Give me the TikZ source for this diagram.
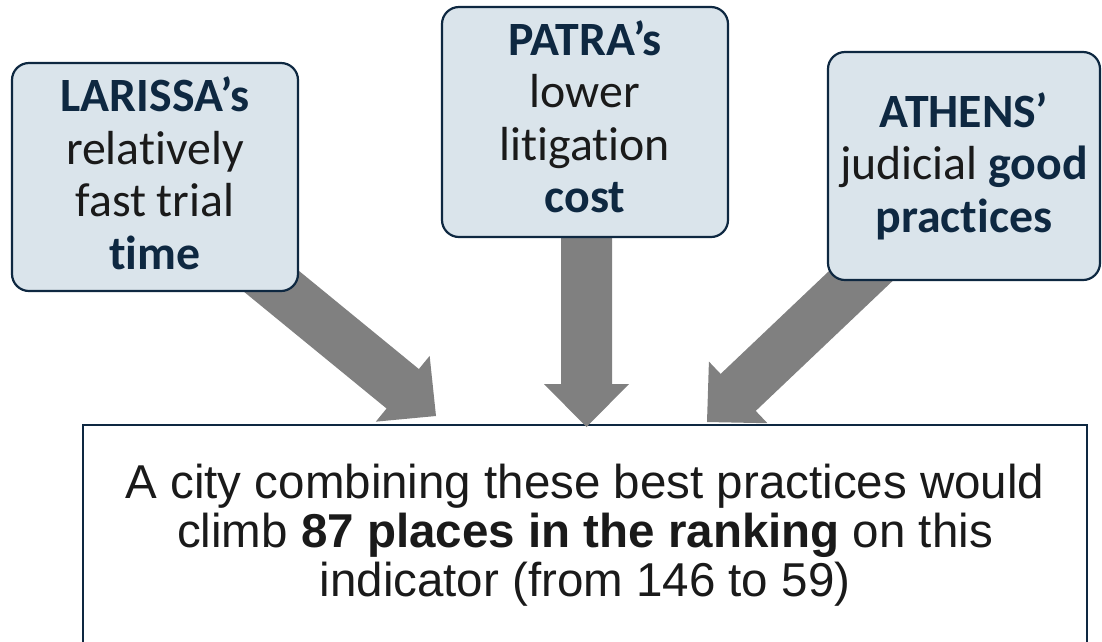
\documentclass[tikz,border=0pt]{standalone}
\usepackage{fontspec}
\setmainfont{Carlito}[Ligatures={NoCommon}]
\newfontfamily\arialf{Liberation Sans}
\usetikzlibrary{calc}
\definecolor{navy}{HTML}{0E2841}
\definecolor{boxfill}{HTML}{DAE4EB}
\definecolor{txt}{HTML}{1A1A1A}
\definecolor{arrowgray}{HTML}{808080}
\newcommand\kw[1]{\textbf{\color{navy}#1}}
\newcommand\fatarrow[3]{%
  \coordinate (#3) at ($(#2)!43pt!(#1)$);
  \fill[arrowgray] ($(#1)!25.5pt!90:(#2)$) -- ($(#3)!25.5pt!90:(#2)$) --
    ($(#3)!42.5pt!90:(#2)$) -- (#2) -- ($(#3)!42.5pt!-90:(#2)$) --
    ($(#3)!25.5pt!-90:(#2)$) -- ($(#1)!25.5pt!-90:(#2)$) -- cycle;}
\begin{document}
\begin{tikzpicture}[x=1pt,y=-1pt,
  topbox/.style={draw=navy, line width=2.2pt, fill=boxfill, rounded corners=17pt, inner sep=0pt},
  toptext/.style={inner sep=0pt, align=center, text=txt, font=\fontsize{47.8}{52.5}\selectfont},
  bottombox/.style={draw=navy, line width=2pt, fill=white, inner sep=0pt},
  restext/.style={inner sep=0pt, align=center, text=txt, font=\arialf\fontsize{47.5}{49.2}\selectfont}]
\useasboundingbox (0,0) rectangle (1102,641);
\clip (0,0) rectangle (1102,641);
% result box
\node[bottombox, anchor=north, minimum width=1004pt, minimum height=300pt] (result) at (585,424) {};
% arrows
\coordinate (sL) at (155,186);
\coordinate (tL) at (436,416);
\coordinate (sM) at (586.5,122);
\coordinate (tM) at (586.5,427);
\coordinate (sR) at (964,178);
\coordinate (tR) at (707,422);
\fatarrow{sL}{tL}{hL}
\fatarrow{sM}{tM}{hM}
\fatarrow{sR}{tR}{hR}
% top boxes
\node[topbox, minimum width=286pt, minimum height=228pt] (larissa) at (155,177) {};
\node[topbox, minimum width=286pt, minimum height=230pt] (patra) at (585,122) {};
\node[topbox, minimum width=272pt, minimum height=228pt] (athens) at (964,166) {};
% texts
\node[toptext, anchor=north] (larissaT) at (155,111.5-38) {\rule{0pt}{38pt}\kw{LARISSA’s}\\relatively\\fast trial\\\kw{time}};
\node[toptext, anchor=north] (patraT) at (585,55-38) {\rule{0pt}{38pt}\kw{PATRA’s}\\lower\\litigation\\\kw{cost}};
\node[toptext, anchor=north] (athensT) at (964,127-38) {\rule{0pt}{38pt}\kw{ATHENS’}\\judicial \kw{good}\\\kw{practices}};
\node[restext, anchor=north] (resultT) at (585,498-38) {\rule{0pt}{38pt}A city combining these best practices would\\climb \textbf{87 places in the ranking} on this\\indicator (from 146 to 59)};
\end{tikzpicture}
\end{document}
